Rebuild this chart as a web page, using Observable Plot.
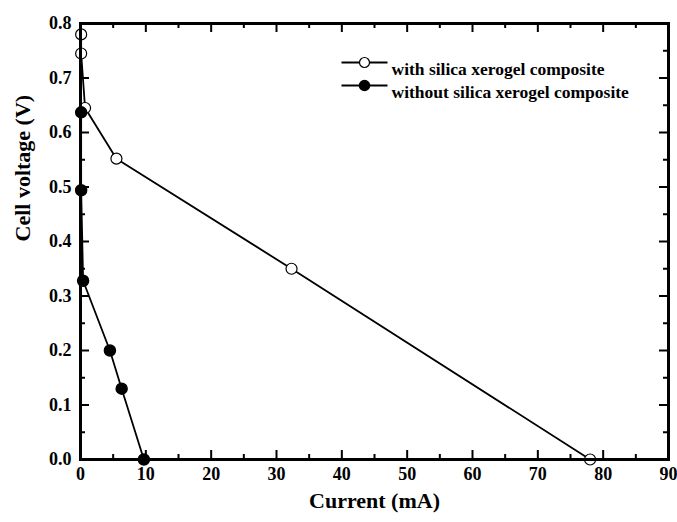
<!DOCTYPE html>
<html>
<head>
<meta charset="utf-8">
<script src="https://cdn.jsdelivr.net/npm/d3@7"></script>
<script src="https://cdn.jsdelivr.net/npm/@observablehq/plot@0.6"></script>
<style>
  html, body { margin: 0; padding: 0; background: #fff; }
  #chart svg { display: block; }
</style>
</head>
<body>
<div id="chart"></div>
<script>
// Data
const withCurrent = [0.1, 0.1, 0.7, 5.5, 32.3, 78.0];
const withVoltage = [0.78, 0.745, 0.645, 0.552, 0.35, 0.0];
const withoutCurrent = [0.1, 0.1, 0.4, 4.5, 6.3, 9.7];
const withoutVoltage = [0.637, 0.494, 0.328, 0.2, 0.13, 0.0];

const seriesNames = ["with silica xerogel composite", "without silica xerogel composite"];

const xMajor = d3.range(0, 91, 10);
const xMinor = d3.range(5, 90, 10);
const yMajor = d3.range(0, 0.81, 0.1).map(v => +v.toFixed(1));
const yMinor = d3.range(0.05, 0.8, 0.1).map(v => +v.toFixed(2));

const W = 677, H = 522;
const mL = 80, mR = 9, mT = 23, mB = 63;
const innerW = W - mL - mR, innerH = H - mT - mB;

const withData = withCurrent.map((c, i) => ({current: c, voltage: withVoltage[i]}));
const withoutData = withoutCurrent.map((c, i) => ({current: c, voltage: withoutVoltage[i]}));

const font = "'Liberation Serif', 'Times New Roman', serif";
const majorLen = 9, minorLen = 5;

const lineSymbol = {draw(ctx, size) { ctx.moveTo(-23, 0); ctx.lineTo(23, 0); }};

const tickStyle = {stroke: "#000", strokeWidth: 2};

const plot = Plot.plot({
  width: W, height: H,
  marginLeft: mL, marginRight: mR, marginTop: mT, marginBottom: mB,
  style: {fontFamily: font, fontWeight: "bold", fontSize: "18px", color: "#000", background: "#fff"},
  x: {domain: [0, 90]},
  y: {domain: [0, 0.8]},
  marks: [
    // inward ticks: bottom/top via tickX, left/right via tickY
    Plot.tickX(xMajor, {x: d => d, insetTop: innerH - majorLen, ...tickStyle}),
    Plot.tickX(xMinor, {x: d => d, insetTop: innerH - minorLen, ...tickStyle}),
    Plot.tickX(xMajor, {x: d => d, insetBottom: innerH - majorLen, ...tickStyle}),
    Plot.tickX(xMinor, {x: d => d, insetBottom: innerH - minorLen, ...tickStyle}),
    Plot.tickY(yMajor, {y: d => d, insetRight: innerW - majorLen, ...tickStyle}),
    Plot.tickY(yMinor, {y: d => d, insetRight: innerW - minorLen, ...tickStyle}),
    Plot.tickY(yMajor, {y: d => d, insetLeft: innerW - majorLen, ...tickStyle}),
    Plot.tickY(yMinor, {y: d => d, insetLeft: innerW - minorLen, ...tickStyle}),
    Plot.axisX({ticks: xMajor, tickSize: 0, tickPadding: 8, fontSize: 18, fontWeight: "bold", label: null}),
    Plot.axisY({ticks: yMajor, tickSize: 0, tickPadding: 9, fontSize: 18, fontWeight: "bold", tickFormat: d3.format(".1f"), label: null}),
    Plot.text(["Current (mA)"], {frameAnchor: "bottom", dy: 48, fontSize: 22, fontWeight: "bold"}),
    Plot.text(["Cell voltage (V)"], {frameAnchor: "left", dx: -58, rotate: -90, fontSize: 22, fontWeight: "bold"}),
    // series
    Plot.line(withData, {x: "current", y: "voltage", stroke: "#000", strokeWidth: 1.8}),
    Plot.line(withoutData, {x: "current", y: "voltage", stroke: "#000", strokeWidth: 1.8}),
    Plot.dot(withData, {x: "current", y: "voltage", r: 5.5, fill: "#fff", stroke: "#000", strokeWidth: 1.2}),
    Plot.dot(withoutData, {x: "current", y: "voltage", r: 5.5, fill: "#000", stroke: "#000"}),
    // legend
    Plot.dot([seriesNames[0]], {frameAnchor: "top-left", dx: 284, dy: 39, symbol: lineSymbol, stroke: "#000", strokeWidth: 1.8, r: 5}),
    Plot.dot([seriesNames[0]], {frameAnchor: "top-left", dx: 284, dy: 39, r: 5, fill: "#fff", stroke: "#000", strokeWidth: 1.2}),
    Plot.dot([seriesNames[1]], {frameAnchor: "top-left", dx: 284, dy: 62, symbol: lineSymbol, stroke: "#000", strokeWidth: 1.8, r: 5}),
    Plot.dot([seriesNames[1]], {frameAnchor: "top-left", dx: 284, dy: 62, r: 5, fill: "#000", stroke: "#000"}),
    Plot.text([seriesNames[0]], {frameAnchor: "top-left", dx: 311, dy: 39, text: d => d, textAnchor: "start", fontSize: 17.5, fontWeight: "bold"}),
    Plot.text([seriesNames[1]], {frameAnchor: "top-left", dx: 311, dy: 62, text: d => d, textAnchor: "start", fontSize: 17.5, fontWeight: "bold"}),
    Plot.frame({stroke: "#000", strokeWidth: 3})
  ]
});
document.getElementById("chart").appendChild(plot);
</script>
</body>
</html>
